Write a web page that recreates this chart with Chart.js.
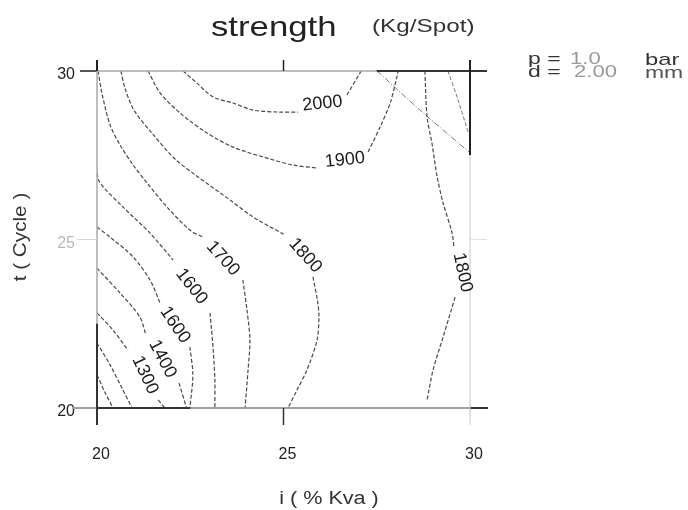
<!DOCTYPE html>
<html>
<head>
<meta charset="utf-8">
<script src="https://cdn.jsdelivr.net/npm/chart.js@4.4.1/dist/chart.umd.min.js"></script>
<style>
  html, body { margin: 0; padding: 0; background: #fff; }
  #wrap { width: 688px; height: 510px; }
</style>
</head>
<body>
<div id="wrap"><canvas id="strengthChart" width="688" height="510"></canvas></div>
<script>
"use strict";

const FONT = '"Liberation Sans", Arial, sans-serif';

// axis ticks
const iTicks = [20, 25, 30];
const tTicks = [20, 25, 30];

// contour lines, null = gap for the label
const c2000I = [22.31, 22.68, 23.11, 23.65, 24.18, 24.91, 25.39, null, 26.70, 27.05, 27.08];
const c2000T = [30.00, 29.64, 29.23, 29.05, 28.84, 28.78, 28.78, null, 29.29, 29.94, 30.00];

const c1900I = [21.37, 21.69, 22.23, 22.95, 23.65, 24.45, 25.25, 25.92, null, 27.27, 27.59, 27.86, 28.04, 28.07];
const c1900T = [30.00, 29.35, 28.75, 28.16, 27.74, 27.45, 27.21, 27.12, null, 27.60, 28.34, 29.05, 29.82, 30.00];

const c1800aI = [20.64, 20.75, 20.99, 21.47, 22.09, 22.68, 23.57, 24.18, 25.00, null, 25.79, 25.92, 25.95, 25.90, 25.63, 25.36, 25.12];
const c1800aT = [30.00, 29.49, 28.84, 28.16, 27.39, 26.88, 26.17, 25.67, 25.16, null, 23.89, 23.12, 22.70, 22.02, 21.13, 20.53, 20.00];

const c1800bI = [28.79, 28.85, 28.98, 29.12, 29.28, 29.52, 29.57, null, 29.60, 29.28, 29.01, 28.85];
const c1800bT = [30.00, 28.63, 27.86, 26.85, 26.08, 25.19, 24.75, null, 23.29, 22.11, 21.13, 20.24];

const c1700I = [20.03, 20.13, 20.35, 20.62, 20.97, 21.34, 21.88, 22.49, 22.84, null, 23.91, 24.02, 24.10, 24.05, 23.97];
const c1700T = [30.00, 29.35, 28.40, 27.80, 27.21, 26.68, 25.96, 25.28, 25.07, null, 23.80, 22.91, 22.02, 21.13, 20.00];

const c1600I = [20.00, 20.08, 20.70, 21.42, 22.04, null, 23.03, 23.11, 23.16, 23.16];
const c1600T = [26.97, 26.68, 25.96, 25.19, 24.39, null, 22.82, 21.81, 20.83, 20.00];

const c1500I = [20.00, 20.35, 20.97, 21.42, 21.69, null, 22.49, 22.57, 22.49];
const c1500T = [25.37, 25.07, 24.48, 23.80, 23.12, null, 21.81, 20.98, 20.00];

const c1400I = [20.00, 20.62, 21.15, 21.31, null, 22.20, 22.40];
const c1400T = [24.15, 23.41, 22.70, 22.17, null, 20.74, 20.00];

const c1300I = [20.00, 20.43, 20.83, null, 21.64, 21.82];
const c1300T = [22.82, 22.31, 21.72, null, 20.24, 20.00];

const c1200I = [20.00, 20.35, 20.67, 20.94];
const c1200T = [21.93, 21.28, 20.59, 20.00];

const c1100I = [20.00, 20.21, 20.43];
const c1100T = [20.98, 20.47, 20.00];

const diagI = [27.51, 28.66, 30.00];
const diagT = [30.00, 28.84, 27.57];

const edgeI = [29.41, 29.68, 29.95];
const edgeT = [30.00, 29.14, 28.19];

// labels as printed on the scan
const contourLabels = ['2000', '1900', '1800', '1800', '1700', '1600', '1600', '1400', '1300', '', '', '', ''];

const contours = [
    [c2000I, c2000T], [c1900I, c1900T], [c1800aI, c1800aT], [c1800bI, c1800bT],
    [c1700I, c1700T], [c1600I, c1600T], [c1500I, c1500T], [c1400I, c1400T],
    [c1300I, c1300T], [c1200I, c1200T], [c1100I, c1100T], [diagI, diagT], [edgeI, edgeT]
];

// label rotation (degrees) and nudge (px) - style only
const LABEL_ROT = [-6, -6, 48, 78, 48, 52, 56, 62, 65];
const LABEL_NUDGE = [0, 2, 7, 8, 0, 0, 0, 0, 2];

function toPoints(iArr, tArr) {
    return iArr.map((v, k) => ({ x: v, y: tArr[k] }));
}

function drawText(ctx, text, x, y, size, sx, color, align, rot) {
    ctx.save();
    ctx.font = `${size}px ${FONT}`;
    ctx.fillStyle = color;
    ctx.textAlign = align || 'left';
    ctx.textBaseline = 'alphabetic';
    ctx.translate(x, y);
    if (rot) ctx.rotate(rot * Math.PI / 180);
    ctx.scale(sx, 1);
    ctx.fillText(text, 0, 0);
    ctx.restore();
}

function seg(ctx, x1, y1, x2, y2, color, w) {
    ctx.beginPath();
    ctx.strokeStyle = color;
    ctx.lineWidth = w;
    ctx.moveTo(x1, y1);
    ctx.lineTo(x2, y2);
    ctx.stroke();
}

const decorPlugin = {
    id: 'decor',
    afterDatasetsDraw(chart) {
        const { ctx } = chart;
        const xs = chart.scales.x, ys = chart.scales.y;
        const L = xs.getPixelForValue(20), R = xs.getPixelForValue(30), M = xs.getPixelForValue(25);
        const T = ys.getPixelForValue(30), B = ys.getPixelForValue(20), Y25 = ys.getPixelForValue(25);
        ctx.save();
        ctx.setLineDash([]);

        // frame, with the darker and lighter parts of the scan
        seg(ctx, L - 17, T, R + 17, T, '#a8a8a8', 1.5);
        seg(ctx, xs.getPixelForValue(27.5), T, R + 17, T, '#333', 2);
        seg(ctx, L - 17, T, L, T, '#555', 2);
        seg(ctx, L - 25, B, R + 18, B, '#a0a0a0', 2);
        seg(ctx, L, B, xs.getPixelForValue(22.5), B, '#333', 2);
        seg(ctx, R, B, R + 18, B, '#333', 2);
        seg(ctx, L, T, L, B, '#a8a8a8', 1.5);
        seg(ctx, L, ys.getPixelForValue(22.5), L, B + 17, '#333', 2);
        seg(ctx, L, T - 11, L, T, '#222', 2);
        seg(ctx, R, T - 11, R, ys.getPixelForValue(27.5), '#222', 2);
        seg(ctx, R, ys.getPixelForValue(27.5), R, B + 17, '#c8c8c8', 1);
        seg(ctx, M, T - 11, M, T, '#222', 1.5);
        seg(ctx, M, B, M, B + 17, '#333', 1.5);
        seg(ctx, L - 20, Y25, L, Y25, '#d8d8d8', 1);
        seg(ctx, R, Y25, R + 17, Y25, '#e0e0e0', 1);

        // contour labels in the gaps of the lines
        contours.forEach((c, n) => {
            const text = contourLabels[n];
            if (!text) return;
            const k = c[0].indexOf(null);
            const xa = xs.getPixelForValue(c[0][k - 1]), ya = ys.getPixelForValue(c[1][k - 1]);
            const xb = xs.getPixelForValue(c[0][k + 1]), yb = ys.getPixelForValue(c[1][k + 1]);
            ctx.save();
            ctx.font = `18px ${FONT}`;
            ctx.fillStyle = '#1a1a1a';
            ctx.textAlign = 'center';
            ctx.textBaseline = 'middle';
            ctx.translate((xa + xb) / 2 + LABEL_NUDGE[n], (ya + yb) / 2);
            ctx.rotate(LABEL_ROT[n] * Math.PI / 180);
            ctx.fillText(text, 0, 0);
            ctx.restore();
        });

        // titles
        drawText(ctx, 'strength', 211, 36, 28, 1.24, '#222');
        drawText(ctx, '(Kg/Spot)', 372, 32, 18, 1.35, '#333');
        drawText(ctx, 'i ( % Kva )', 329, 504, 18, 1.2, '#333', 'center');
        drawText(ctx, 't ( Cycle )', 26, 237, 18, 1.15, '#333', 'center', -90);

        // process settings
        drawText(ctx, 'p =', 528, 64, 17, 1.35, '#333');
        drawText(ctx, '1.0', 570, 64, 17, 1.3, '#9a9a9a');
        drawText(ctx, 'd =', 528, 77, 17, 1.35, '#333');
        drawText(ctx, '2.00', 574, 77, 17, 1.3, '#9a9a9a');
        drawText(ctx, 'bar', 645, 65, 17, 1.4, '#333');
        drawText(ctx, 'mm', 645, 78, 17, 1.35, '#555');
        ctx.restore();
    }
};

const datasets = contours.map((c, n) => ({
    label: contourLabels[n] || 'line',
    data: toPoints(c[0], c[1]),
    showLine: true,
    spanGaps: false,
    pointRadius: 0,
    borderWidth: n >= 11 ? 1 : 1.2,
    borderColor: n >= 11 ? '#777' : '#4a4a4a',
    borderDash: n === 11 ? [6, 2, 1, 2] : [4, 2],
    fill: false,
    tension: 0.3
}));

const ctx = document.getElementById('strengthChart').getContext('2d');
new Chart(ctx, {
    type: 'scatter',
    data: { datasets },
    options: {
        responsive: false,
        animation: false,
        layout: { padding: { left: 0, right: 218, top: 71, bottom: 0 } },
        plugins: { legend: { display: false }, tooltip: { enabled: false } },
        scales: {
            x: {
                type: 'linear', min: 20, max: 30,
                afterBuildTicks: s => { s.ticks = iTicks.map(v => ({ value: v })); },
                afterFit: s => { s.height = 102; },
                grid: { display: false, drawTicks: false },
                border: { display: false },
                ticks: { padding: 37, labelOffset: 4, autoSkip: false, maxRotation: 0, color: '#222', font: { family: FONT, size: 16 } }
            },
            y: {
                type: 'linear', min: 20, max: 30,
                afterBuildTicks: s => { s.ticks = tTicks.map(v => ({ value: v })); },
                afterFit: s => { s.width = 97; },
                grid: { display: false, drawTicks: false },
                border: { display: false },
                ticks: {
                    padding: 22, labelOffset: 4, autoSkip: false,
                    color: c => (c.tick && c.tick.value === 25 ? '#b8b8b8' : '#222'),
                    font: { family: FONT, size: 16 }
                }
            }
        }
    },
    plugins: [decorPlugin]
});
</script>
</body>
</html>
